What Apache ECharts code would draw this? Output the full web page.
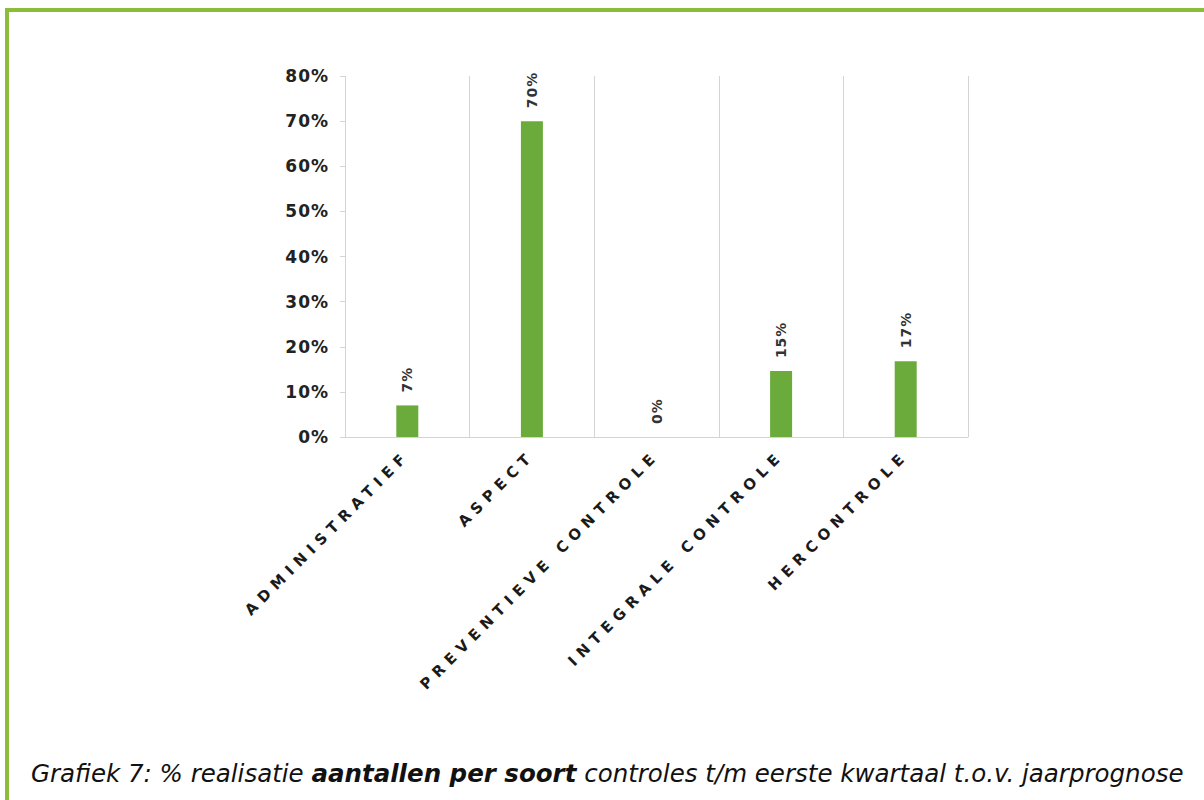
<!DOCTYPE html>
<html>
<head>
<meta charset="utf-8">
<script src="https://cdn.jsdelivr.net/npm/echarts@6/dist/echarts.min.js"></script>
<style>
html,body{margin:0;padding:0;background:#fff;}
#chart{width:1204px;height:800px;}
</style>
</head>
<body>
<div id="chart"></div>
<script>
const categories = ['ADMINISTRATIEF', 'ASPECT', 'PREVENTIEVE CONTROLE', 'INTEGRALE CONTROLE', 'HERCONTROLE'];
const values = [7.0, 70.0, 0.0, 14.6, 16.8];
const yTicks = [0, 10, 20, 30, 40, 50, 60, 70, 80];
const captionParts = ['Grafiek 7: % realisatie ', 'aantallen per soort', ' controles t/m eerste kwartaal t.o.v. jaarprognose'];

const chart = echarts.init(document.getElementById('chart'), null, {renderer: 'svg'});
const option = {
  animation: false,
  backgroundColor: '#ffffff',
  grid: {left: 345, right: 236, top: 76, bottom: 363, containLabel: false},
  xAxis: {
    type: 'category',
    data: categories,
    axisLine: {show: true, lineStyle: {color: '#d4d4d4', width: 1}},
    axisTick: {show: false},
    splitLine: {show: true, lineStyle: {color: '#d4d4d4', width: 1}},
    axisLabel: {
      interval: 0,
      rotate: 45,
      margin: 16,
      fontFamily: 'DejaVu Sans',
      fontWeight: 'bold',
      fontSize: 15,
      color: '#1a1a1a'
    }
  },
  yAxis: {
    type: 'value',
    min: yTicks[0],
    max: yTicks[yTicks.length - 1],
    interval: 10,
    axisLine: {show: false},
    axisTick: {show: true, length: 5, inside: false, lineStyle: {color: '#d4d4d4'}},
    splitLine: {show: false},
    axisLabel: {
      margin: 16,
      formatter: v => v + '%',
      fontFamily: 'DejaVu Sans',
      fontWeight: 'bold',
      fontSize: 17,
      color: '#222222'
    }
  },
  series: [{
    type: 'bar',
    data: values,
    barWidth: 22,
    itemStyle: {color: '#6aab3b'},
    label: {
      show: true,
      position: 'top',
      rotate: 90,
      align: 'left',
      verticalAlign: 'middle',
      distance: 13,
      formatter: p => Math.round(p.value) + '%',
      fontFamily: 'DejaVu Sans',
      fontWeight: 'bold',
      fontSize: 14,
      color: '#333333'
    }
  }],
  title: {
    left: 26,
    top: 756,
    text: '{i|' + captionParts[0] + '}{b|' + captionParts[1] + '}{i|' + captionParts[2] + '}',
    textStyle: {
      fontWeight: 'normal',
      rich: {
        i: {fontFamily: 'DejaVu Sans', fontStyle: 'italic', fontWeight: 'normal', fontSize: 24.5, color: '#111'},
        b: {fontFamily: 'DejaVu Sans', fontStyle: 'italic', fontWeight: 'bold', fontSize: 24.5, color: '#111'}
      }
    }
  },
  graphic: [
    {type: 'rect', shape: {x: 5, y: 8, width: 1199, height: 4}, style: {fill: '#8cbd3a'}},
    {type: 'rect', shape: {x: 5, y: 8, width: 4, height: 792}, style: {fill: '#8cbd3a'}}
  ]
};
chart.setOption(option);

function spaceLabels() {
  document.querySelectorAll('#chart text').forEach(t => {
    const s = t.textContent.trim();
    if (categories.indexOf(s) >= 0) {
      t.setAttribute('letter-spacing', '6px');
    } else if (/^\d+%$/.test(s)) {
      t.setAttribute('letter-spacing', '1px');
    }
  });
}
chart.on('finished', spaceLabels);
spaceLabels();
</script>
</body>
</html>
